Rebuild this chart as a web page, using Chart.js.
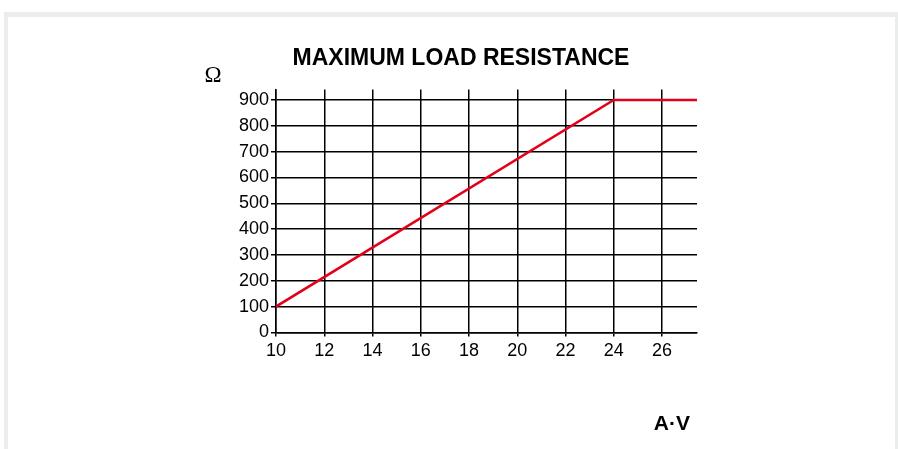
<!DOCTYPE html>
<html>
<head>
<meta charset="utf-8">
<script src="https://cdn.jsdelivr.net/npm/chart.js@4.4.1/dist/chart.umd.min.js"></script>
<style>
  html, body { margin: 0; padding: 0; background: #ffffff; }
  #frame {
    position: absolute; left: 4px; top: 12px; width: 887px; height: 440px;
    border-left: 4px solid #ebeded; border-top: 5px solid #ebeded; border-right: 5px solid #ebeded;
    background: #ffffff;
  }
  #wrap { position: absolute; left: 0; top: 0; width: 898px; height: 449px; }
</style>
</head>
<body>
<div id="frame"></div>
<div id="wrap"><canvas id="c" width="898" height="449"></canvas></div>
<script>
// Data
const loadAV = [10, 24, 28];            // A·V (current × voltage)
const maxResistance = [100, 900, 900];  // Ω
const chartTitle = 'MAXIMUM LOAD RESISTANCE';
const xUnit = 'A·V';
const yUnit = 'Ω';

const points = loadAV.map((x, i) => ({ x: x, y: maxResistance[i] }));

const unitLabels = {
  id: 'unitLabels',
  afterDraw(chart) {
    const ctx = chart.ctx;
    const area = chart.chartArea;
    ctx.save();
    ctx.fillStyle = '#000';
    ctx.textBaseline = 'middle';
    // y unit, above the value labels
    ctx.font = '23px "Liberation Serif", "Times New Roman", serif';
    ctx.textAlign = 'center';
    ctx.fillText(yUnit, area.left - 63, area.top - 14);
    // x unit, below the axis at the right
    ctx.font = 'bold 21px "Liberation Sans", Arial, sans-serif';
    ctx.textAlign = 'right';
    ctx.fillText(xUnit, area.right - 7, 424);
    ctx.restore();
  }
};

new Chart(document.getElementById('c'), {
  type: 'scatter',
  data: {
    datasets: [{
      data: points,
      showLine: true,
      borderColor: '#e3001b',
      backgroundColor: '#e3001b',
      borderWidth: 2.5,
      pointRadius: 0,
      pointHoverRadius: 0,
      tension: 0
    }]
  },
  options: {
    responsive: false,
    animation: false,
    events: [],
    layout: { padding: { left: 225, right: 201, top: 0, bottom: 83 } },
    plugins: {
      legend: { display: false },
      tooltip: { enabled: false },
      title: {
        display: true,
        text: chartTitle,
        color: '#000',
        font: { family: '"Liberation Sans", Arial, sans-serif', size: 23, weight: 'bold' },
        padding: { top: 45, bottom: 17 }
      }
    },
    scales: {
      x: {
        type: 'linear',
        min: 10,
        max: 27.45,
        ticks: {
          stepSize: 2,
          includeBounds: false,
          color: '#000',
          padding: 4,
          maxRotation: 0,
          font: { family: '"Liberation Sans", Arial, sans-serif', size: 18 }
        },
        grid: { color: '#000', lineWidth: 1.5, tickLength: 4, drawTicks: true },
        border: { display: true, color: '#000', width: 1.5 }
      },
      y: {
        type: 'linear',
        min: 0,
        max: 940,
        afterFit(scale) { scale.width = 51; },
        ticks: {
          stepSize: 100,
          includeBounds: false,
          color: '#000',
          padding: 2,
          font: { family: '"Liberation Sans", Arial, sans-serif', size: 18 }
        },
        grid: { color: '#000', lineWidth: 1.5, tickLength: 5, drawTicks: true },
        border: { display: true, color: '#000', width: 1.5 }
      }
    }
  },
  plugins: [unitLabels]
});
</script>
</body>
</html>
